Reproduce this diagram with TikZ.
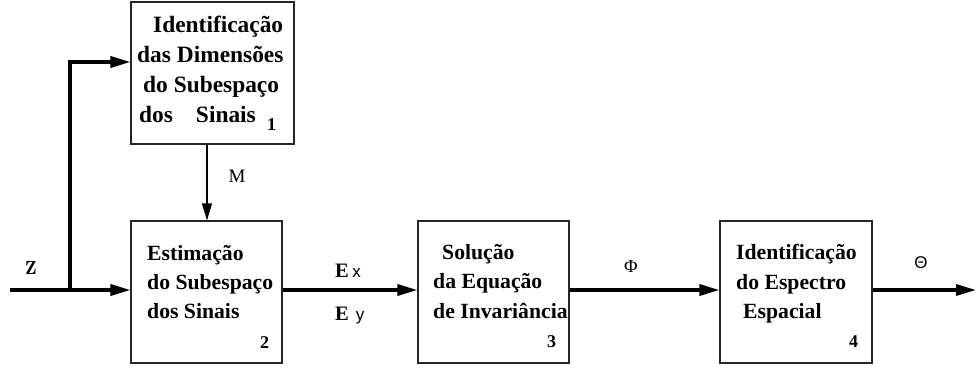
\documentclass[tikz,border=0pt]{standalone}
\usepackage{fontspec}
\setmainfont{Liberation Serif}
\newfontfamily\helv{Liberation Sans}
\usetikzlibrary{arrows.meta}
\tikzset{
  blk/.style={draw=black!85, line width=1.1pt, rectangle, inner sep=0pt},
  big/.style={anchor=base west, inner sep=0pt, font=\fontsize{23.4}{30}\selectfont\bfseries},
  mid/.style={anchor=base west, inner sep=0pt, font=\fontsize{21.7}{29}\selectfont\bfseries},
  num/.style={anchor=base west, inner sep=0pt, font=\fontsize{18}{20}\selectfont\bfseries},
  lbl/.style={inner sep=0pt, font=\fontsize{19}{21}\selectfont},
  thickarr/.style={line width=3.2pt, -{Triangle[length=20pt,width=11pt]}},
  thinarr/.style={line width=1.1pt, -{Triangle[length=17pt,width=10pt]}},
  thickln/.style={line width=3.2pt}
}
\begin{document}
\begin{tikzpicture}[x=1pt,y=-1pt]
\useasboundingbox (0,0) rectangle (976,372);
% boxes
\node[blk, minimum width=163pt, minimum height=142pt] (b1) at (212.5,73) {};
\node[blk, minimum width=151pt, minimum height=142pt] (b2) at (206.5,292) {};
\node[blk, minimum width=151pt, minimum height=142pt] (b3) at (493.5,292) {};
\node[blk, minimum width=152pt, minimum height=142pt] (b4) at (796,292) {};
% box 1 text
\node[big] (t1a) at (153,32) {Identificação};
\node[big] (t1b) at (137,62) {das Dimensões};
\node[big] (t1c) at (143,92) {do Subespaço};
\node[big] (t1d) at (139,122) {dos\hspace{23pt}Sinais};
\node[num] (n1) at (267,130) {1};
% box 2 text
\node[mid] (t2a) at (147,260) {Estimação};
\node[mid] (t2b) at (147,289) {do Subespaço};
\node[mid] (t2c) at (147,318) {dos Sinais};
\node[num] (n2) at (260,348) {2};
% box 3 text
\node[mid] (t3a) at (442,259) {Solução};
\node[mid] (t3b) at (433,288) {da Equação};
\node[mid] (t3c) at (433,318) {de Invariância};
\node[num] (n3) at (547,347) {3};
% box 4 text
\node[mid] (t4a) at (736,259) {Identificação};
\node[mid] (t4b) at (736,289) {do Espectro};
\node[mid] (t4c) at (743,318) {Espacial};
\node[num] (n4) at (849,347) {4};
% coordinates
\coordinate (ml) at (0,290);
\coordinate (zin) at (10,290);
\coordinate (br) at (70,290);
\coordinate (tp) at (70,62);
\coordinate (out) at (976,290);
\coordinate (mx) at (207,0);
% connectors
\draw[thickln] (zin) -- (br);
\draw[thickarr] (br) -- (b2.west |- ml);
\draw[thickarr] (br) -- (tp) -- (b1.west |- tp);
\draw[thinarr] (b1.south -| mx) -- (b2.north -| mx);
\draw[thickarr] (b2.east |- ml) -- (b3.west |- ml);
\draw[thickarr] (b3.east |- ml) -- (b4.west |- ml);
\draw[thickarr] (b4.east |- ml) -- (out);
% labels
\node[inner sep=0pt, font=\fontfamily{lmr}\fontsize{19}{21}\selectfont\bfseries] (lz) at (31,268) {Z};
\node[lbl] (lm) at (237,176.5) {M};
\node[anchor=base west, inner sep=0pt] (lex) at (335,277) {\fontsize{20.5}{22}\selectfont\bfseries E\,\helv\mdseries\fontsize{17}{20}\selectfont x};
\node[anchor=base west, inner sep=0pt] (ley) at (335,320) {\fontsize{20.5}{22}\selectfont\bfseries E\hspace{7pt}\helv\mdseries\fontsize{17}{20}\selectfont y};
\node[inner sep=0pt, font=\fontsize{18.5}{20}\selectfont] (lphi) at (631,266) {Φ};
\node[inner sep=0pt, font=\helv\fontsize{17}{18}\selectfont] (ltheta) at (921,263) {Θ};
\end{tikzpicture}
\end{document}
